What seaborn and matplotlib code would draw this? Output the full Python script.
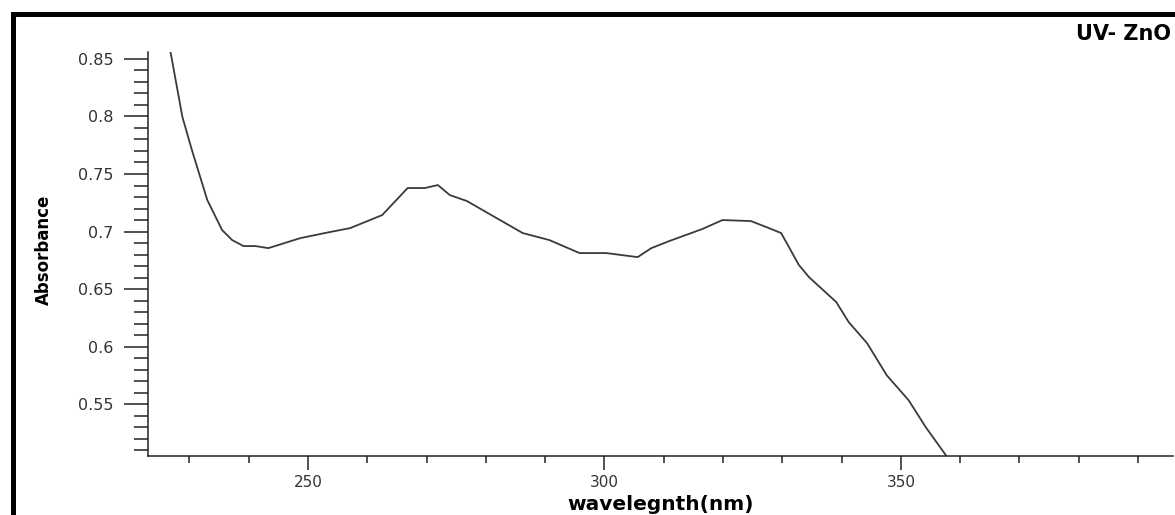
import numpy as np
import pandas as pd
import matplotlib
matplotlib.use("Agg")
import matplotlib.pyplot as plt
import seaborn as sns
from matplotlib.patches import Rectangle
from matplotlib.ticker import MultipleLocator

# UV-Vis absorbance of ZnO
wavelength = [226.8, 228.8, 230.4, 233.0, 235.5, 237.2, 239.1, 241.1, 243.3, 248.7,
              253.7, 257.1, 262.5, 266.8, 269.7, 271.9, 273.9, 276.8, 281.8, 286.2,
              290.7, 295.8, 300.3, 305.6, 307.9, 310.9, 316.5, 319.9, 324.7, 327.3,
              329.8, 332.8, 334.5, 339.1, 341.2, 344.3, 347.6, 351.3, 354.2, 357.6]
absorbance = [0.856, 0.7996, 0.7709, 0.7274, 0.7013, 0.6926, 0.6874, 0.6874, 0.6856, 0.6943,
              0.6996, 0.7030, 0.7143, 0.7378, 0.7378, 0.7404, 0.7317, 0.7265, 0.7117, 0.6987,
              0.6926, 0.6813, 0.6813, 0.6778, 0.6856, 0.6917, 0.7022, 0.7100, 0.7091, 0.7039,
              0.6987, 0.6709, 0.6604, 0.6387, 0.6213, 0.6030, 0.5752, 0.5535, 0.5300, 0.5056]
y_ticks = [0.55, 0.6, 0.65, 0.7, 0.75, 0.8, 0.85]
y_labels = ["0.55", "0.6", "0.65", "0.7", "0.75", "0.8", "0.85"]
x_ticks = [250, 300, 350]

df = pd.DataFrame({"wavelength": wavelength, "absorbance": absorbance})

sns.set_style("ticks")
plt.rcParams['font.family'] = ['DejaVu Sans']

fig = plt.figure(figsize=(11.75, 5.15), dpi=100)
ax = fig.add_axes([148/1175, 1-456/515, (1173-148)/1175, (456-52)/515])

sns.lineplot(data=df, x="wavelength", y="absorbance", ax=ax, color="#3a3a3a",
             linewidth=1.3, sort=False)

ax.set_xlim(223.0, 395.9)
ax.set_ylim(0.505, 0.856)
ax.set_xticks(x_ticks)
ax.xaxis.set_minor_locator(MultipleLocator(10))
ax.set_yticks(y_ticks)
ax.set_yticklabels(y_labels)
ax.yaxis.set_minor_locator(MultipleLocator(0.01))

ax.tick_params(axis="x", which="major", length=10, width=1.1, color="#222222",
               labelsize=11, labelcolor="#333333", pad=4)
ax.tick_params(axis="x", which="minor", length=5, width=1.1, color="#222222")
ax.tick_params(axis="y", which="major", length=17, width=1.1, color="#222222",
               labelsize=11.5, labelcolor="#333333", pad=8)
ax.tick_params(axis="y", which="minor", length=10, width=1.1, color="#222222")

sns.despine(ax=ax)
for s in ["left", "bottom"]:
    ax.spines[s].set_linewidth(1.1)
    ax.spines[s].set_color("#222222")

ax.set_xlabel("wavelegnth(nm)", fontsize=14.5, fontweight="bold", color="black")
ax.xaxis.set_label_coords(0.5, -0.097)
ax.set_ylabel("Absorbance", fontsize=12, fontweight="bold", color="black")
ax.yaxis.set_label_coords(-0.093, 0.51)

fig.text(1171/1175, 1-34/515, "UV- ZnO", ha="right", va="center",
         fontsize=15, fontweight="bold", color="black")

# thick frame of the original screenshot (left and top visible)
fig.add_artist(Rectangle((12.5/1175, -0.2), 1.5, 1-14/515+0.2, transform=fig.transFigure,
                         fill=False, edgecolor="black", linewidth=3.6, clip_on=False))

fig.savefig("out.png", dpi=100, facecolor="white")
